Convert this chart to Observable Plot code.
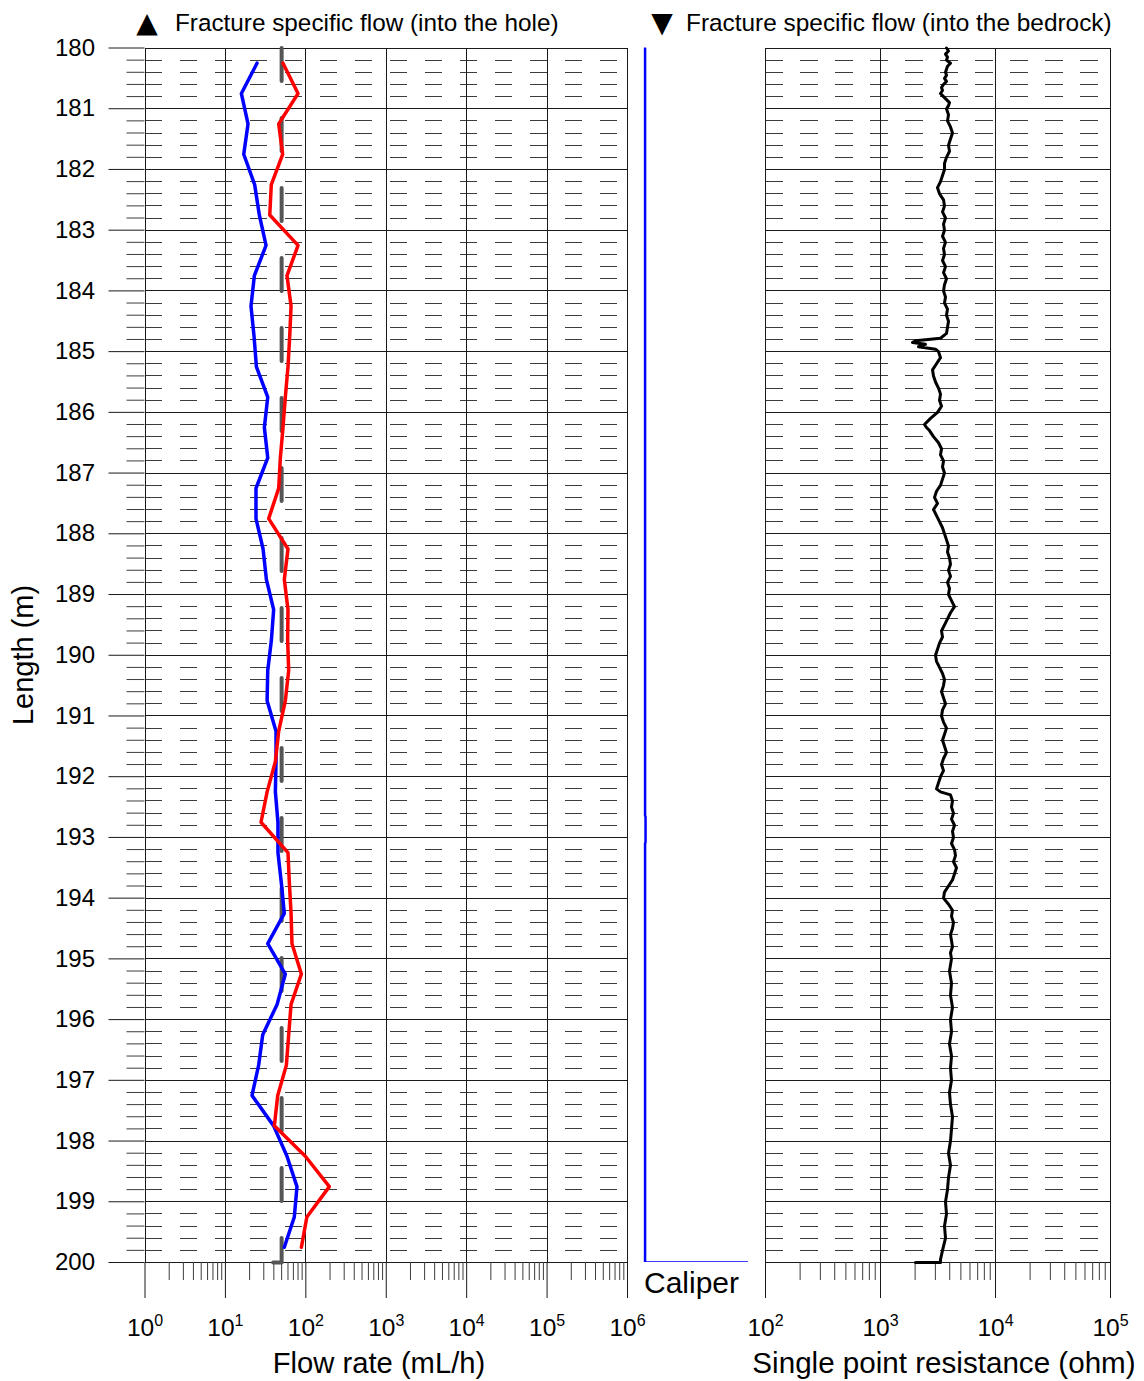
<!DOCTYPE html>
<html><head><meta charset="utf-8">
<script src="https://cdn.jsdelivr.net/npm/d3@7"></script>
<script src="https://cdn.jsdelivr.net/npm/@observablehq/plot@0.6"></script>
<style>
body{margin:0;background:#fff;}
#chart{position:relative;width:1144px;height:1381px;background:#fff;font-family:"Liberation Sans",Arial,sans-serif;}
#chart svg{position:absolute;left:0;top:0;overflow:visible;}
</style></head><body><div id="chart"></div>
<script>
// ---------- data ----------
const flowDepth = [180.25,180.75,181.25,181.75,182.25,182.75,183.25,183.75,184.25,184.75,
  185.25,185.75,186.25,186.75,187.25,187.75,188.25,188.75,189.25,189.75,
  190.25,190.75,191.25,191.75,192.25,192.75,193.25,193.75,194.25,194.75,
  195.25,195.75,196.25,196.75,197.25,197.75,198.25,198.75,199.25,199.75];
const flowBlue = [24.7,15.8,19.1,16.9,23.1,26.4,32,22.9,20.8,22.7,
  24.3,33.6,30.5,33.6,24,24,29.4,32.3,39.8,37.3,
  33.6,33,42.6,42.6,41.8,45,45,49.6,54,33.6,
  55.6,43.9,29.1,25.9,21.4,39.8,58.3,77.6,71.9,54];
const flowRed = [52,80,46,51.5,37.2,35.6,80,58.3,65.5,63,
  60,55.6,52,48.2,46,34.5,60,54,60,59.4,
  61.2,55.6,46,41.8,33,27.7,60,62.4,65.5,67.3,
  88,65.5,61.2,57.3,44.7,40.6,98.6,196,103,88];
const limitDepth = [180, 200, 200];
const limitFlow = [50, 50, 34];
const caliperDepth = [180, 192.64, 192.66, 193.08, 193.1, 200, 200];
const caliperValue = [75.79, 75.79, 75.80, 75.80, 75.79, 75.79, 78.0];
const sprDepth = [180.00,180.05,180.10,180.15,180.20,180.25,180.30,180.35,180.40,180.45,180.50,180.55,180.60,180.65,180.70,180.75,180.80,180.85,180.90,180.95,
  181.0,181.1,181.2,181.3,181.4,181.5,181.6,181.7,181.8,181.9,
  182.0,182.1,182.2,182.3,182.4,182.5,182.6,182.7,182.8,182.9,
  183.0,183.1,183.2,183.3,183.4,183.5,183.6,183.7,183.8,183.9,
  184.0,184.1,184.2,184.3,184.4,184.5,184.6,184.7,184.78,184.82,184.85,184.88,184.92,184.96,
  185.0,185.1,185.2,185.3,185.4,185.5,185.6,185.7,185.8,185.9,
  186.0,186.1,186.2,186.25,186.3,186.4,186.5,186.6,186.7,186.8,186.9,
  187.0,187.1,187.2,187.3,187.4,187.5,187.6,187.7,187.8,187.9,
  188.0,188.1,188.2,188.3,188.4,188.5,188.6,188.7,188.8,188.9,
  189.0,189.1,189.2,189.3,189.4,189.5,189.6,189.7,189.8,189.9,
  190.0,190.1,190.2,190.3,190.4,190.5,190.6,190.7,190.8,190.9,
  191.0,191.1,191.2,191.3,191.4,191.5,191.6,191.7,191.8,191.9,
  192.0,192.1,192.2,192.25,192.3,192.4,192.5,192.6,192.7,192.8,192.9,
  193.0,193.1,193.2,193.3,193.4,193.5,193.6,193.7,193.8,193.9,
  194.0,194.1,194.2,194.3,194.4,194.5,194.6,194.7,194.8,194.9,
  195.0,195.2,195.4,195.6,195.8,196.0,196.2,196.4,196.6,196.8,
  197.0,197.2,197.4,197.6,197.8,198.0,198.2,198.4,198.6,198.8,
  199.0,199.2,199.4,199.6,199.8,199.95,200.0,200.0];
const sprOhm = [3749,3902,3675,3825,3749,4061,3825,3749,3675,3749,3602,3749,3531,3393,3461,3325,3531,3749,3981,3902,
  3749,3902,3825,4061,4227,4061,3902,3981,3749,3602,
  3602,3461,3325,3131,3259,3531,3602,3461,3675,3531,
  3602,3461,3675,3531,3602,3461,3675,3531,3749,3602,
  3531,3675,3602,3825,3749,3902,3825,3749,3325,2015,1898,2462,2140,3008,
  3194,3325,3069,2833,2890,3008,3194,3325,3259,3393,
  3131,2722,2413,2512,2668,2890,3194,3393,3325,3531,3461,
  3602,3461,3325,3069,2949,3131,2890,3069,3259,3461,
  3602,3749,3902,3825,3981,4061,3902,4061,3825,3981,
  3902,4144,4400,4061,3825,3602,3393,3461,3259,3131,
  3008,3069,3259,3461,3602,3531,3393,3531,3675,3461,
  3393,3531,3749,3602,3461,3602,3749,3531,3393,3531,
  3325,3194,3069,3325,4061,4227,4144,4313,4144,4400,4227,
  4313,4144,4400,4489,4313,4580,4400,4227,3902,3602,
  3531,3902,4227,4144,4313,4227,4061,4144,4227,4061,
  4144,3981,4144,4061,4227,4061,4144,3981,4144,4061,
  4144,3981,4061,4227,4144,4061,3902,4061,3902,3825,
  3675,3749,3602,3675,3461,3325,3325,2015];
const meterTicks = [180,181,182,183,184,185,186,187,188,189,190,191,192,193,194,195,196,197,198,199,200];
const flowDecades = [1,10,100,1000,10000,100000,1000000];
const sprDecades = [100,1000,10000,100000];

// ---------- derived tables / tick helpers ----------
const blueRows = flowDepth.map((d,i)=>({d, v: flowBlue[i]}));
const redRows = flowDepth.map((d,i)=>({d, v: flowRed[i]}));
const limitRows = limitDepth.map((d,i)=>({d, v: limitFlow[i]}));
const caliperRows = caliperDepth.map((d,i)=>({d, v: caliperValue[i]}));
const sprRows = sprDepth.map((d,i)=>({d, v: sprOhm[i]}));
const minorDepth = [];
meterTicks.slice(0,-1).forEach(m => [0.2,0.4,0.6,0.8].forEach(f => minorDepth.push(+(m+f).toFixed(1))));
const minorOf = decs => { const out=[]; decs.slice(0,-1).forEach(d => [2,3,4,5,6,7,8,9].forEach(k=>out.push(d*k))); return out; };
const flowMinor = minorOf(flowDecades);
const sprMinor = minorOf(sprDecades);
const sup = d => "10^" + Math.round(Math.log10(d));

const W = 1144, H = 1381, TOP = 47.5, BOT = 1262;
const FONT = "Liberation Sans, Arial, sans-serif";
const common = {
  width: W, height: H, marginTop: TOP, marginBottom: H - BOT,
  y: {domain: [180, 200], reverse: true, axis: null},
  style: {background: "transparent", color: "black", fontFamily: FONT, fontSize: "24px", overflow: "visible"}
};
const GRID = "#1a1a1a", MINOR = "#3c3c3c";

const leftPlot = Plot.plot({
  ...common, marginLeft: 144.5, marginRight: W - 627,
  x: {type: "log", domain: [1, 1e6], axis: null},
  marks: [
    Plot.ruleY(minorDepth, {stroke: MINOR, strokeDasharray: "17.5,17.5"}),
    Plot.ruleY(meterTicks, {stroke: GRID}),
    Plot.ruleX(flowDecades, {stroke: GRID}),
    Plot.axisY({ticks: meterTicks, tickSize: 36, tickPadding: 14, fontSize: 24, label: null, stroke: GRID}),
    Plot.axisY({ticks: minorDepth, tickSize: 18, tickFormat: () => "", label: null, stroke: MINOR}),
    Plot.axisX({ticks: flowDecades, tickSize: 36, tickPadding: 20, tickFormat: sup, fontSize: 24.5, label: null, stroke: GRID}),
    Plot.axisX({ticks: flowMinor, tickSize: 18, tickFormat: () => "", label: null, stroke: MINOR}),
    Plot.line(limitRows, {x: "v", y: "d", stroke: "#555", strokeWidth: 4, strokeDasharray: "33,37", strokeLinecap: "round"}),
    Plot.line(blueRows, {x: "v", y: "d", stroke: "#0000ff", strokeWidth: 3.5}),
    Plot.line(redRows, {x: "v", y: "d", stroke: "#ff0000", strokeWidth: 3.5})
  ]
});

const caliperPlot = Plot.plot({
  ...common, marginLeft: 631, marginRight: W - 748,
  x: {domain: [75.5, 78.0], axis: null},
  marks: [
    Plot.line(caliperRows, {x: "v", y: "d", stroke: "#0000ff", strokeWidth: 2.5, clip: true})
  ]
});

const rightPlot = Plot.plot({
  ...common, marginLeft: 765, marginRight: W - 1110,
  x: {type: "log", domain: [100, 1e5], axis: null},
  marks: [
    Plot.ruleY(minorDepth, {stroke: MINOR, strokeDasharray: "17.5,17.5"}),
    Plot.ruleY(meterTicks, {stroke: GRID}),
    Plot.ruleX(sprDecades, {stroke: GRID}),
    Plot.axisX({ticks: sprDecades, tickSize: 36, tickPadding: 20, tickFormat: sup, fontSize: 24.5, label: null, stroke: GRID}),
    Plot.axisX({ticks: sprMinor, tickSize: 18, tickFormat: () => "", label: null, stroke: MINOR}),
    Plot.line(sprRows, {x: "v", y: "d", stroke: "black", strokeWidth: 3})
  ]
});

function superscripts(svg) {
  d3.select(svg).selectAll("text").each(function() {
    const s = this.textContent;
    const i = s.indexOf("^");
    if (i < 0) return;
    const el = d3.select(this);
    el.text("");
    el.append("tspan").text(s.slice(0, i));
    el.append("tspan").attr("font-size", "16px").attr("dy", "-10").text(s.slice(i + 1));
  });
}

const chart = document.getElementById("chart");
[leftPlot, caliperPlot, rightPlot].forEach(p => {
  superscripts(p);
  d3.select(p).selectAll("line").attr("shape-rendering", "crispEdges");
  chart.appendChild(p);
});

// ---------- titles & legend ----------
const ov = d3.create("svg").attr("width", W).attr("height", H)
  .style("font-family", FONT).style("pointer-events", "none");
const T = (x, y, s, size, anchor = "start", extra = {}) => {
  const t = ov.append("text").attr("x", x).attr("y", y).attr("font-size", size)
    .attr("text-anchor", anchor).attr("fill", "black").text(s);
  Object.entries(extra).forEach(([k, v]) => t.attr(k, v));
  return t;
};
T(147, 32, "▲", 28, "middle", {"font-family": "DejaVu Sans"});
T(175, 31, "Fracture specific flow (into the hole)", 24.3);
T(662, 32, "▼", 28, "middle", {"font-family": "DejaVu Sans"});
T(686, 31, "Fracture specific flow (into the bedrock)", 24.4);
T(379, 1373, "Flow rate (mL/h)", 29.2, "middle");
T(944, 1373, "Single point resistance (ohm)", 29.6, "middle");
T(644, 1293, "Caliper", 30, "start");
T(0, 0, "Length (m)", 29, "middle", {transform: "translate(33,655) rotate(-90)"});
chart.appendChild(ov.node());
</script></body></html>
